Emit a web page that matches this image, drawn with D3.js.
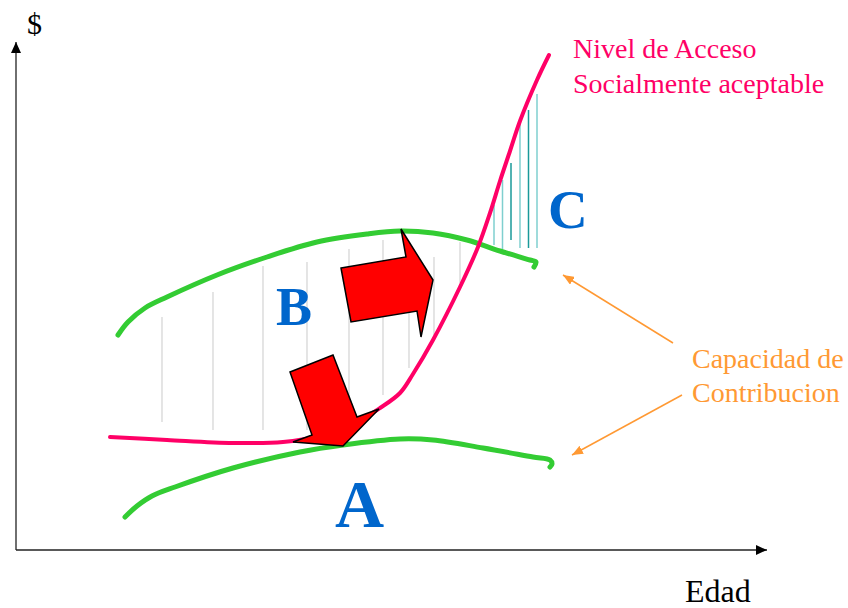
<!DOCTYPE html>
<html>
<head>
<meta charset="utf-8">
<script src="https://cdn.jsdelivr.net/npm/d3@7"></script>
<style>
body { margin: 0; background: #fff; }
</style>
</head>
<body>
<svg id="chart" width="848" height="608"></svg>
<script>
// chart units: edad 0..750, monto 0..500
let axisEnd = [751, 508];
let serif = "'Liberation Serif', Tinos, 'Times New Roman', Times, serif";

// Nivel de Acceso socialmente aceptable
let nivelAcceso = [[94,113],[151,110],[217,107],[267,108],[304,114],[334,124],[364,142],[384,157],
	[397,176],[417,210],[444,263],[462,303],[474,337],[484,369],[494,399],[504,429],[521,470],[533,495]];

// Capacidad de contribucion (upper and lower)
let capacidadAlta = [[102,215],[112,228],[129,242],[151,253],[201,275],[251,293],[301,308],[351,316],[384,319],
	[417,317],[451,310],[484,299],[514,290],[520,288],[518,283]];
let capacidadBaja = [[109,33],[121,44],[136,54],[159,63],[217,82],[284,98],[327,105],[384,111],[417,110],
	[467,102],[517,93],[534,90],[536,86],[534,83]];

// hatch lines: [edad, top, bottom]
let hatchB = [[146,233,128],[197,258,120],[247,284,120],[291,288,120],[333,301,135],
	[367,310,155],[393,305,182],[418,293,215],[444,308,267]];
let hatchC = [[478,345,305],[486.5,370,301],[495,387,310],[504,430,302],[512.5,440,302],[521,456,302]];
let hatchCShade = ["light","light","dark","light","dark","light"];

// big red arrows
let flechaDerecha = [[325,282],[390,293],[385,321],[417,270],[405,213],[401,239],[335,228]];
let flechaAbajo = [[274,178],[317,195],[341,133],[363,141],[327,104],[277,108],[296,115]];

// annotation arrows: [from, to]
let notaFlechas = [[[657,207],[547,275]], [[666,155],[556,95]]];

let letras = [
	{t: "B", x: 260, y: 225, size: 54},
	{t: "A", x: 319, y: 23, size: 68},
	{t: "C", x: 532, y: 322, size: 55}
];
let notaNivel = ["Nivel de Acceso", "Socialmente aceptable"];
let notaCapacidad = ["Capacidad de", "Contribucion"];

let svg = d3.select("#chart");

let xScale = d3
	.scaleLinear()
	.domain([0, 750])
	.range([16, 766]);
let yScale = d3
	.scaleLinear()
	.domain([0, 500])
	.range([550, 50]);

let defs = svg.append("defs");
function addMarker(id, color, len, wid) {
	defs.append("marker")
		.attr("id", id)
		.attr("viewBox", "0 0 " + len + " " + wid)
		.attr("refX", len)
		.attr("refY", wid / 2)
		.attr("markerUnits", "userSpaceOnUse")
		.attr("markerWidth", len)
		.attr("markerHeight", wid)
		.attr("orient", "auto")
		.append("path")
		.attr("d", "M0,0L" + len + "," + wid / 2 + "L0," + wid + "Z")
		.attr("fill", color);
}
addMarker("axisHead", "#000", 11, 10);
addMarker("orangeHead", "#ff9933", 11, 9);

// axes
svg.append("line")
	.attr("x1", xScale(0)).attr("y1", yScale(0))
	.attr("x2", xScale(axisEnd[0])).attr("y2", yScale(0))
	.attr("stroke", "#222").attr("stroke-width", 1.3)
	.attr("marker-end", "url(#axisHead)");
svg.append("line")
	.attr("x1", xScale(0)).attr("y1", yScale(0))
	.attr("x2", xScale(0)).attr("y2", yScale(axisEnd[1]))
	.attr("stroke", "#222").attr("stroke-width", 1.3)
	.attr("marker-end", "url(#axisHead)");

// hatch B (gray)
svg.append("g")
	.selectAll("line")
	.data(hatchB)
	.join("line")
	.attr("x1", d => xScale(d[0])).attr("x2", d => xScale(d[0]))
	.attr("y1", d => yScale(d[1])).attr("y2", d => yScale(d[2]))
	.attr("stroke", "#d3d3d3").attr("stroke-width", 1.2);

// hatch C (teal)
svg.append("g")
	.selectAll("line")
	.data(hatchC)
	.join("line")
	.attr("x1", d => xScale(d[0])).attr("x2", d => xScale(d[0]))
	.attr("y1", d => yScale(d[1])).attr("y2", d => yScale(d[2]))
	.attr("stroke", (d, i) => hatchCShade[i] == "dark" ? "#1a9a9a" : "#7fcfcf")
	.attr("stroke-width", 1.5);

let lineGen = d3
	.line()
	.x(d => xScale(d[0]))
	.y(d => yScale(d[1]))
	.curve(d3.curveCatmullRom);

svg.append("path")
	.attr("d", lineGen(capacidadAlta))
	.attr("fill", "none").attr("stroke", "#33cc33")
	.attr("stroke-width", 5).attr("stroke-linecap", "round").attr("stroke-linejoin", "round");
svg.append("path")
	.attr("d", lineGen(capacidadBaja))
	.attr("fill", "none").attr("stroke", "#33cc33")
	.attr("stroke-width", 5).attr("stroke-linecap", "round").attr("stroke-linejoin", "round");
svg.append("path")
	.attr("d", lineGen(nivelAcceso))
	.attr("fill", "none").attr("stroke", "#ff0066")
	.attr("stroke-width", 4).attr("stroke-linecap", "round");

// red arrows
let polyGen = d3
	.line()
	.x(d => xScale(d[0]))
	.y(d => yScale(d[1]));
[flechaDerecha, flechaAbajo].forEach(f => {
	svg.append("path")
		.attr("d", polyGen(f) + "Z")
		.attr("fill", "#ff0000")
		.attr("stroke", "#000")
		.attr("stroke-width", 1.5)
		.attr("stroke-linejoin", "miter");
});

// orange annotation arrows
svg.append("g")
	.selectAll("line")
	.data(notaFlechas)
	.join("line")
	.attr("x1", d => xScale(d[0][0])).attr("y1", d => yScale(d[0][1]))
	.attr("x2", d => xScale(d[1][0])).attr("y2", d => yScale(d[1][1]))
	.attr("stroke", "#ff9933").attr("stroke-width", 1.5)
	.attr("marker-end", "url(#orangeHead)");

// letters
svg.append("g")
	.selectAll("text")
	.data(letras)
	.join("text")
	.attr("x", d => xScale(d.x))
	.attr("y", d => yScale(d.y))
	.attr("font-family", serif)
	.attr("font-size", d => d.size)
	.attr("font-weight", "bold")
	.attr("fill", "#0066cc")
	.text(d => d.t);

// notes
let nivel = svg.append("text")
	.attr("x", xScale(557)).attr("y", yScale(492))
	.attr("font-family", serif)
	.attr("font-size", 28).attr("fill", "#ff0066");
nivel.selectAll("tspan")
	.data(notaNivel)
	.join("tspan")
	.attr("x", xScale(557))
	.attr("dy", (d, i) => i == 0 ? 0 : 35)
	.text(d => d);

let capacidad = svg.append("text")
	.attr("x", xScale(676)).attr("y", yScale(182))
	.attr("font-family", serif)
	.attr("font-size", 28).attr("fill", "#ff9933");
capacidad.selectAll("tspan")
	.data(notaCapacidad)
	.join("tspan")
	.attr("x", xScale(676))
	.attr("dy", (d, i) => i == 0 ? 0 : 34)
	.text(d => d);

// axis labels
svg.append("text")
	.attr("x", xScale(11)).attr("y", yScale(516))
	.attr("font-family", serif)
	.attr("font-size", 30).attr("fill", "#000")
	.text("$");
svg.append("text")
	.attr("x", xScale(669)).attr("y", yScale(-52))
	.attr("font-family", serif)
	.attr("font-size", 32).attr("fill", "#000")
	.text("Edad");
</script>
</body>
</html>
